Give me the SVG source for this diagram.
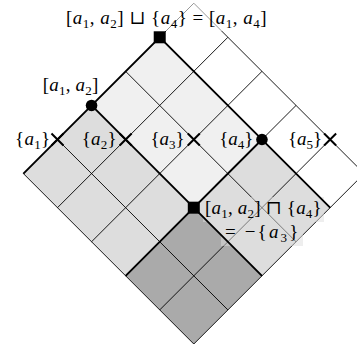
<svg xmlns="http://www.w3.org/2000/svg" width="357" height="347" viewBox="0 0 357 347">
<style>
.thin{stroke:#000;stroke-width:0.9;fill:none}
.thick{stroke:#000;stroke-width:1.9;fill:none;stroke-linejoin:miter}
.x{stroke:#000;stroke-width:2;fill:none}
.box{fill:#fff;fill-opacity:0.55;stroke:none}
.box2{fill:#dddddd;fill-opacity:0.5;stroke:none}
.mk{fill:#000;stroke:none}
text{font-family:"Liberation Serif","DejaVu Serif",serif;font-size:19px;fill:#000}
.i{font-style:italic}
.s{font-size:13px}
</style>
<rect width="357" height="347" fill="#fff"/>
<g id="regions">
<polygon fill="#aaaaaa" points="193.8,344 125.64,275.84 193.8,207.68 261.96,275.84"/>
<polygon fill="#dddddd" points="125.64,275.84 23.4,173.6 91.56,105.44 193.8,207.68"/>
<polygon fill="#dddddd" points="261.96,275.84 193.8,207.68 261.96,139.52 330.12,207.68"/>
<polygon fill="#f0f0f0" points="193.8,207.68 91.56,105.44 159.72,37.28 261.96,139.52"/>
</g>
<g id="connectors">
<g class="thin">
<line x1="193.8" y1="344" x2="364.2" y2="173.6"/>
<line x1="159.72" y1="309.92" x2="330.12" y2="139.52"/>
<line x1="125.64" y1="275.84" x2="296.04" y2="105.44"/>
<line x1="91.56" y1="241.76" x2="261.96" y2="71.36"/>
<line x1="57.48" y1="207.68" x2="227.88" y2="37.28"/>
<line x1="23.4" y1="173.6" x2="193.8" y2="3.2"/>
<line x1="193.8" y1="344" x2="23.4" y2="173.6"/>
<line x1="227.88" y1="309.92" x2="57.48" y2="139.52"/>
<line x1="261.96" y1="275.84" x2="91.56" y2="105.44"/>
<line x1="296.04" y1="241.76" x2="125.64" y2="71.36"/>
<line x1="330.12" y1="207.68" x2="159.72" y2="37.28"/>
<line x1="364.2" y1="173.6" x2="193.8" y2="3.2"/>
</g>
<g id="label-boxes">
<rect class="box" x="61" y="1" width="211" height="30"/>
<rect class="box2" x="203" y="197" width="121" height="25"/>
<rect class="box2" x="221" y="222" width="82" height="24"/>
</g>
<g class="thick">
<polyline points="23.4,173.6 159.72,37.28 330.12,207.68"/>
<line x1="125.64" y1="275.84" x2="261.96" y2="139.52"/>
<line x1="261.96" y1="275.84" x2="91.56" y2="105.44"/>
</g>
</g>
<g id="join-a1a2-a4">
<rect class="mk" x="153.72" y="31.28" width="12" height="12"/>
<text x="66" y="23.7" textLength="200.7" lengthAdjust="spacing">[<tspan class="i">a</tspan><tspan class="s" dy="4">1</tspan><tspan dy="-4">, </tspan><tspan class="i">a</tspan><tspan class="s" dy="4">2</tspan><tspan dy="-4">] ⊔ {</tspan><tspan class="i">a</tspan><tspan class="s" dy="4">4</tspan><tspan dy="-4">} = [</tspan><tspan class="i">a</tspan><tspan class="s" dy="4">1</tspan><tspan dy="-4">, </tspan><tspan class="i">a</tspan><tspan class="s" dy="4">4</tspan><tspan dy="-4">]</tspan></text>
</g>
<g id="meet-a1a2-a4">
<rect class="mk" x="187.8" y="201.68" width="12" height="12"/>
<text x="205" y="213.8" textLength="116.7" lengthAdjust="spacing">[<tspan class="i">a</tspan><tspan class="s" dy="4">1</tspan><tspan dy="-4">, </tspan><tspan class="i">a</tspan><tspan class="s" dy="4">2</tspan><tspan dy="-4">] ⊓ {</tspan><tspan class="i">a</tspan><tspan class="s" dy="4">4</tspan><tspan dy="-4">}</tspan></text>
<text x="225" y="237.8" textLength="73.3" lengthAdjust="spacing">= −{<tspan class="i">a</tspan><tspan class="s" dy="4">3</tspan><tspan dy="-4">}</tspan></text>
</g>
<g id="a1a2">
<circle class="mk" cx="91.56" cy="105.44" r="5.8"/>
<text x="42.7" y="90.7" textLength="55.6" lengthAdjust="spacing">[<tspan class="i">a</tspan><tspan class="s" dy="4">1</tspan><tspan dy="-4">, </tspan><tspan class="i">a</tspan><tspan class="s" dy="4">2</tspan><tspan dy="-4">]</tspan></text>
</g>
<g id="a1">
<path class="x" d="M51.48,133.52L63.48,145.52M51.48,145.52L63.48,133.52"/>
<text x="15" y="145.3" textLength="35" lengthAdjust="spacing">{<tspan class="i">a</tspan><tspan class="s" dy="4">1</tspan><tspan dy="-4">}</tspan></text>
</g>
<g id="a2">
<path class="x" d="M119.64,133.52L131.64,145.52M119.64,145.52L131.64,133.52"/>
<text x="81.7" y="145.3" textLength="35" lengthAdjust="spacing">{<tspan class="i">a</tspan><tspan class="s" dy="4">2</tspan><tspan dy="-4">}</tspan></text>
</g>
<g id="a3">
<path class="x" d="M187.8,133.52L199.8,145.52M187.8,145.52L199.8,133.52"/>
<text x="150.5" y="145.3" textLength="34" lengthAdjust="spacing">{<tspan class="i">a</tspan><tspan class="s" dy="4">3</tspan><tspan dy="-4">}</tspan></text>
</g>
<g id="a4">
<circle class="mk" cx="261.96" cy="139.52" r="5.8"/>
<text x="219.3" y="145.3" textLength="34" lengthAdjust="spacing">{<tspan class="i">a</tspan><tspan class="s" dy="4">4</tspan><tspan dy="-4">}</tspan></text>
</g>
<g id="a5">
<path class="x" d="M324.12,133.52L336.12,145.52M324.12,145.52L336.12,133.52"/>
<text x="288" y="145.3" textLength="34" lengthAdjust="spacing">{<tspan class="i">a</tspan><tspan class="s" dy="4">5</tspan><tspan dy="-4">}</tspan></text>
</g>
</svg>
